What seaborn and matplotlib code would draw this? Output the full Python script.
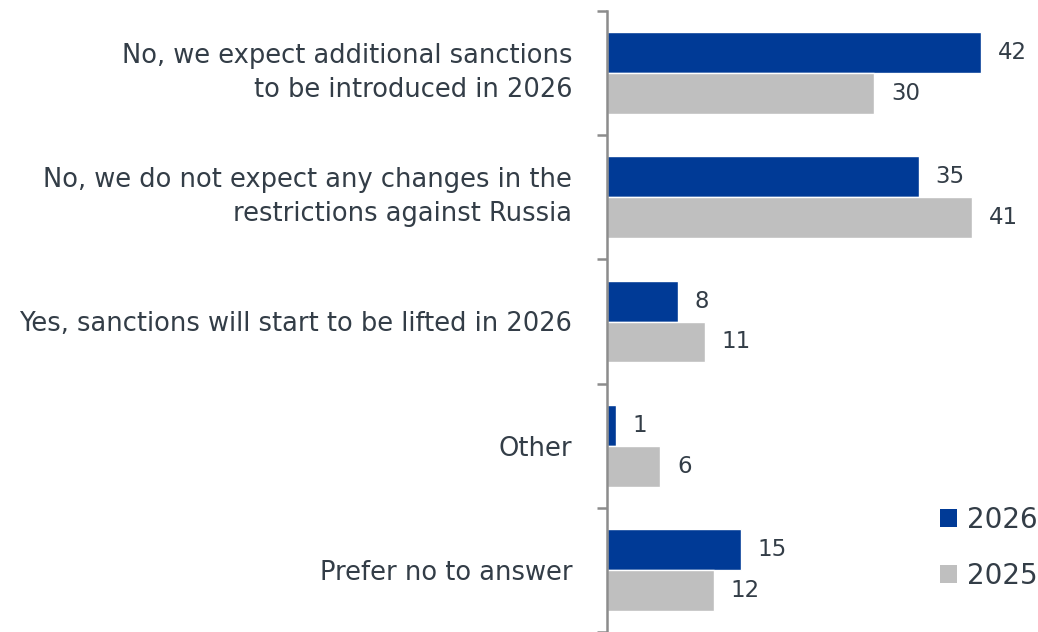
import matplotlib
matplotlib.use("Agg")
import matplotlib.pyplot as plt
import seaborn as sns
import pandas as pd
import numpy as np
from matplotlib.patches import Patch

categories = [
    "No, we expect additional sanctions\nto be introduced in 2026",
    "No, we do not expect any changes in the\nrestrictions against Russia",
    "Yes, sanctions will start to be lifted in 2026",
    "Other",
    "Prefer no to answer",
]
series_names = ["2026", "2025"]
values_2026 = [42, 35, 8, 1, 15]
values_2025 = [30, 41, 11, 6, 12]

colors = {"2026": "#003A96", "2025": "#BFBFBF"}
text_color = "#333D47"

df = pd.DataFrame({
    "category": categories * 2,
    "year": [series_names[0]] * len(categories) + [series_names[1]] * len(categories),
    "value": values_2026 + values_2025,
})

sns.set_style("white")
plt.rcParams["font.family"] = ["DejaVu Sans"]

fig = plt.figure(figsize=(10.38, 6.32), dpi=100)
ax = fig.add_axes([607 / 1038, 0.0, 1 - 607 / 1038, 1 - 11 / 632])

sns.barplot(data=df, y="category", x="value", hue="year", order=categories,
            hue_order=series_names, palette=colors, orient="h", width=0.66,
            saturation=1, ax=ax, legend=False)

ax.set_xlim(0, 48.4)
ax.set_ylim(4.5, -0.5)
ax.set_xlabel("")
ax.set_ylabel("")
ax.set_xticks([])

for cont in ax.containers:
    ax.bar_label(cont, labels=[f"{int(v)}" for v in cont.datavalues], padding=12,
                 fontsize=16.5, color=text_color)

ax.tick_params(axis="y", which="major", left=False, length=0, pad=25, labelsize=18.5,
               labelcolor=text_color)
for lbl in ax.get_yticklabels():
    lbl.set_horizontalalignment("right")
    lbl.set_multialignment("right")
    lbl.set_linespacing(1.4)
    if "\n" in lbl.get_text():
        lbl.set_verticalalignment("center")
ax.set_yticks(np.arange(-0.5, len(categories) + 0.5, 1), minor=True)
ax.tick_params(axis="y", which="minor", left=True, length=7.5, width=1.8,
               color="#8C8C8C", direction="out")

for s in ["top", "right", "bottom"]:
    ax.spines[s].set_visible(False)
ax.spines["left"].set_color("#8C8C8C")
ax.spines["left"].set_linewidth(1.8)

handles = [Patch(facecolor=colors[n], edgecolor="none", label=n) for n in series_names]
leg = ax.legend(handles=handles, loc="upper left",
                bbox_to_anchor=(940 / 1038, 1 - 506 / 632), bbox_transform=fig.transFigure,
                frameon=False, fontsize=20, handlelength=0.62, handleheight=0.62,
                handletextpad=0.36, labelspacing=1.0, labelcolor=text_color,
                borderaxespad=0, borderpad=0)

fig.savefig("out.png", dpi=100)
